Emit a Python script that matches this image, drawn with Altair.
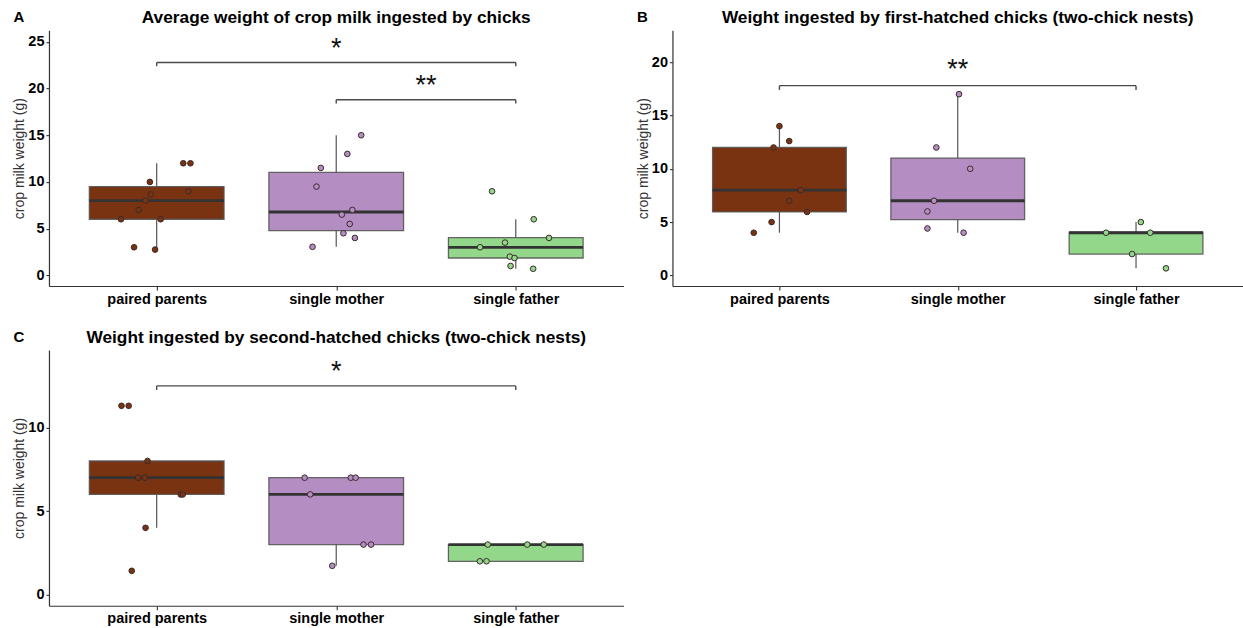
import altair as alt
import pandas as pd

FONT = "Liberation Sans"
groups = ["paired parents", "single mother", "single father"]
colors = ["#7A3311", "#B48EC3", "#93D78B"]

# ---------------- Panel A: average weight ----------------
a_pp_vals = [12.0, 12.0, 10.0, 9.0, 8.67, 8.0, 7.0, 6.0, 6.0, 3.0, 2.75]
a_pp_jit = [0.148, 0.188, -0.038, 0.177, -0.033, -0.062, -0.10, -0.199, 0.022, -0.126, -0.009]
a_sm_vals = [15.0, 13.0, 11.5, 9.5, 7.0, 6.5, 5.5, 4.5, 4.0, 3.05]
a_sm_jit = [0.139, 0.062, -0.086, -0.11, 0.09, 0.031, 0.075, 0.04, 0.104, -0.132]
a_sf_vals = [9.0, 6.0, 4.0, 3.5, 3.0, 2.0, 1.85, 1.0, 0.7]
a_sf_jit = [-0.132, 0.10, 0.185, -0.06, -0.199, -0.033, -0.007, -0.029, 0.097]
a_q1 = [6.0, 4.78, 1.85]
a_med = [8.0, 6.78, 3.0]
a_q3 = [9.5, 11.02, 4.03]
a_lo = [2.75, 3.05, 0.7]
a_hi = [12.0, 15.0, 6.0]
a_br_from = [1, 2]
a_br_to = [3, 3]
a_br_y = [22.8, 18.8]
a_br_tip = [22.4, 18.4]
a_br_lab = ["*", "**"]
a_br_laby = [24.8, 20.8]

# ---------------- Panel B: first-hatched chicks ----------------
b_pp_vals = [14.0, 12.6, 12.0, 8.0, 7.0, 5.95, 5.0, 4.0]
b_pp_jit = [0.0, 0.055, -0.033, 0.12, 0.055, 0.155, -0.044, -0.144]
b_sm_vals = [17.0, 12.0, 10.0, 7.0, 6.0, 4.4, 4.0]
b_sm_jit = [0.007, -0.12, 0.07, -0.133, -0.17, -0.17, 0.033]
b_sf_vals = [5.0, 4.0, 4.0, 2.0, 0.66]
b_sf_jit = [0.027, -0.168, 0.08, -0.022, 0.168]
b_q1 = [5.95, 5.23, 2.0]
b_med = [8.0, 7.0, 4.0]
b_q3 = [12.0, 11.0, 4.05]
b_lo = [4.0, 4.0, 0.66]
b_hi = [14.0, 17.0, 5.0]
b_br_from = [1]
b_br_to = [3]
b_br_y = [17.8]
b_br_tip = [17.4]
b_br_lab = ["**"]
b_br_laby = [19.7]

# ---------------- Panel C: second-hatched chicks ----------------
c_pp_vals = [11.3, 11.3, 8.0, 7.0, 7.0, 6.0, 6.0, 4.0, 1.43]
c_pp_jit = [-0.196, -0.156, -0.051, -0.104, -0.066, 0.134, 0.145, -0.062, -0.139]
c_sm_vals = [7.0, 7.0, 7.0, 6.0, 3.0, 3.0, 1.73]
c_sm_jit = [-0.176, 0.081, 0.108, -0.145, 0.152, 0.194, -0.022]
c_sf_vals = [3.0, 3.0, 3.0, 2.0, 2.0]
c_sf_jit = [-0.156, 0.064, 0.156, -0.2, -0.163]
c_q1 = [6.0, 3.0, 2.0]
c_med = [7.0, 6.0, 3.0]
c_q3 = [8.0, 7.0, 3.0]
c_lo = [4.0, 1.73, 2.0]
c_hi = [8.0, 7.0, 3.0]
c_br_from = [1]
c_br_to = [3]
c_br_y = [12.49]
c_br_tip = [12.25]
c_br_lab = ["*"]
c_br_laby = [13.65]

BOX_HALF = 0.375
label_expr = " : ".join(
    [f"datum.value == {i + 1} ? '{g}'" for i, g in enumerate(groups[:-1])] + [f"'{groups[-1]}'"]
)


def points_df(vals_list, jit_list):
    rows = []
    for gi, (vals, jits) in enumerate(zip(vals_list, jit_list)):
        for v, j in zip(vals, jits):
            rows.append({"group": groups[gi], "x": gi + 1 + j, "value": v})
    return pd.DataFrame(rows)


def box_df(q1, med, q3, lo, hi):
    return pd.DataFrame({
        "group": groups,
        "xc": [1, 2, 3],
        "x1": [i + 1 - BOX_HALF for i in range(3)],
        "x2": [i + 1 + BOX_HALF for i in range(3)],
        "q1": q1, "med": med, "q3": q3, "lo": lo, "hi": hi,
    })


def bracket_df(f, t, y, tip, lab, laby):
    return pd.DataFrame({
        "xa": f, "xb": t, "y": y, "tip": tip, "lab": lab, "laby": laby,
        "xm": [(a + b) / 2 for a, b in zip(f, t)],
    })


def panel(letter, title, pts, box, br, ydom, yvals, w, h):
    xs = alt.Scale(domain=[0.4, 3.6], nice=False, zero=False)
    ys = alt.Scale(domain=ydom, nice=False, zero=False)
    xaxis = alt.Axis(values=[1, 2, 3], labelExpr=label_expr, title=None, grid=False,
                     tickSize=4, labelPadding=2)
    yaxis = alt.Axis(values=yvals, title="crop milk weight (g)", grid=False, tickSize=3,
                     labelPadding=2, titlePadding=1, format="d")
    cscale = alt.Scale(domain=groups, range=colors)

    def X(f):
        return alt.X(f, scale=xs, axis=xaxis)

    def Y(f):
        return alt.Y(f, scale=ys, axis=yaxis)

    bb = alt.Chart(box)
    w_up = bb.mark_rule(color="#555555", strokeWidth=1.2).encode(
        x=X("xc:Q"), y=Y("q3:Q"), y2="hi:Q")
    w_dn = bb.mark_rule(color="#555555", strokeWidth=1.2).encode(
        x=X("xc:Q"), y=Y("lo:Q"), y2="q1:Q")
    rect = bb.mark_rect(stroke="#555555", strokeWidth=1.3, strokeOpacity=0.9).encode(
        x=X("x1:Q"), x2="x2:Q", y=Y("q1:Q"), y2="q3:Q",
        color=alt.Color("group:N", scale=cscale, legend=None))
    medl = bb.mark_rule(color="#333333", strokeWidth=2.8).encode(
        x=X("x1:Q"), x2="x2:Q", y=Y("med:Q"))
    pts_l = alt.Chart(pts).mark_point(filled=True, size=32, stroke="#3a2a2a",
                                      strokeWidth=1.0, opacity=1).encode(
        x=X("x:Q"), y=Y("value:Q"),
        color=alt.Color("group:N", scale=cscale, legend=None))
    bc = alt.Chart(br)
    br_h = bc.mark_rule(color="#4a4a4a", strokeWidth=1.4).encode(
        x=X("xa:Q"), x2="xb:Q", y=Y("y:Q"))
    br_l = bc.mark_rule(color="#4a4a4a", strokeWidth=1.4).encode(
        x=X("xa:Q"), y=Y("tip:Q"), y2="y:Q")
    br_r = bc.mark_rule(color="#4a4a4a", strokeWidth=1.4).encode(
        x=X("xb:Q"), y=Y("tip:Q"), y2="y:Q")
    stars = bc.mark_text(font=FONT, fontSize=27, color="#111111", baseline="middle", dy=5).encode(
        x=X("xm:Q"), y=Y("laby:Q"), text="lab:N")
    labels = alt.Chart(pd.DataFrame({"t": [letter], "title": [title]}))
    let = labels.mark_text(
        font=FONT, fontSize=15, fontWeight="bold", color="black", align="center",
        baseline="middle").encode(x=alt.value(-30), y=alt.value(-13), text="t:N")
    ttl = labels.mark_text(
        font=FONT, fontSize=17.3, fontWeight="bold", color="black", align="center",
        baseline="middle").encode(x=alt.value(w / 2), y=alt.value(-12), text="title:N")
    return alt.layer(w_up, w_dn, rect, medl, pts_l, br_h, br_l, br_r, stars, let, ttl).properties(
        width=w, height=h,
    )


pA = panel("A", "Average weight of crop milk ingested by chicks",
           points_df([a_pp_vals, a_sm_vals, a_sf_vals], [a_pp_jit, a_sm_jit, a_sf_jit]),
           box_df(a_q1, a_med, a_q3, a_lo, a_hi),
           bracket_df(a_br_from, a_br_to, a_br_y, a_br_tip, a_br_lab, a_br_laby),
           [-1.15, 26.25], [0, 5, 10, 15, 20, 25], 575, 256)
pB = panel("B", "Weight ingested by first-hatched chicks (two-chick nests)",
           points_df([b_pp_vals, b_sm_vals, b_sf_vals], [b_pp_jit, b_sm_jit, b_sf_jit]),
           box_df(b_q1, b_med, b_q3, b_lo, b_hi),
           bracket_df(b_br_from, b_br_to, b_br_y, b_br_tip, b_br_lab, b_br_laby),
           [-1.0, 23.0], [0, 5, 10, 15, 20], 571, 256)
pC = panel("C", "Weight ingested by second-hatched chicks (two-chick nests)",
           points_df([c_pp_vals, c_sm_vals, c_sf_vals], [c_pp_jit, c_sm_jit, c_sf_jit]),
           box_df(c_q1, c_med, c_q3, c_lo, c_hi),
           bracket_df(c_br_from, c_br_to, c_br_y, c_br_tip, c_br_lab, c_br_laby),
           [-0.66, 14.64], [0, 5, 10], 575, 256)

chart = alt.concat(
    pA, pB, pC,
    columns=2,
    spacing=alt.RowColnumber(row=64, column=49),
    bounds="flush",
).properties(
    padding={"left": 12, "top": 9, "right": 0, "bottom": 0},
    background="white",
).configure_view(stroke=None).configure_axis(
    domainColor="#333333", domainWidth=1.2, tickColor="#333333", tickWidth=1.1,
    labelColor="black", labelFont=FONT, labelFontWeight="bold", labelFontSize=14.5,
    titleFont=FONT, titleFontWeight="normal", titleFontSize=14, titleColor="#333333",
)

chart.save("out.html", embed_options={"renderer": "svg", "actions": False})
